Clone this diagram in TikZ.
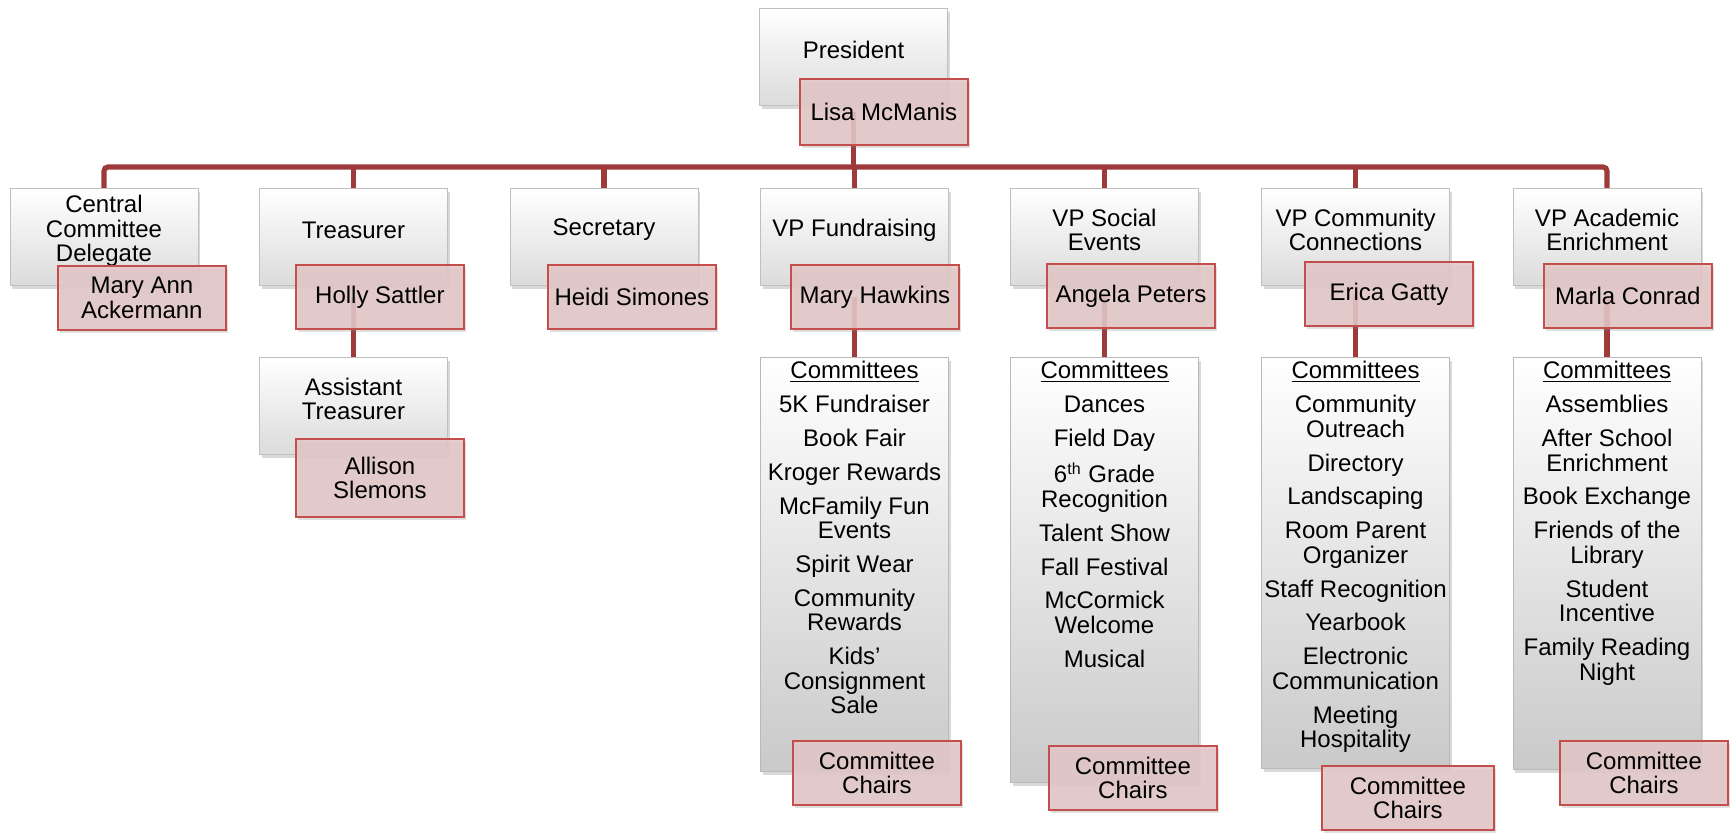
\documentclass[tikz,border=0pt]{standalone}
\usepackage{fontspec}
\setmainfont{Liberation Sans}
\usetikzlibrary{shadows}
\pgfdeclarelayer{bg}
\pgfsetlayers{bg,main}
\definecolor{connc}{RGB}{158,58,58}
\definecolor{pfill}{RGB}{228,200,200}
\definecolor{pdraw}{RGB}{196,78,76}
\newcommand\itemgap{\\[4.6pt]}
\tikzset{
  connline/.style={draw=connc, line width=2.6pt},
  txt/.style={font=\fontsize{12}{12.3}\selectfont, align=center, inner sep=0pt, text=black},
  rolebox/.style={draw=gray!50, line width=0.5pt, top color=white, bottom color=gray!28,
    minimum width=94pt, minimum height=48.5pt, inner sep=0pt, anchor=north,
    drop shadow={opacity=0.3, shadow xshift=1pt, shadow yshift=-1.5pt}},
  commbox/.style={draw=gray!55, line width=0.5pt, top color=white, bottom color=gray!42,
    minimum width=94pt, inner sep=0pt, anchor=north,
    drop shadow={opacity=0.3, shadow xshift=1pt, shadow yshift=-1.5pt}},
  personbox/.style={txt, draw=pdraw, line width=0.9pt, fill=pfill, fill opacity=0.88, text opacity=1,
    minimum width=84pt, minimum height=32pt, anchor=north west,
    drop shadow={opacity=0.25, shadow xshift=1pt, shadow yshift=-1.5pt}},
}
\begin{document}
\begin{tikzpicture}[x=0.5pt, y=-0.5pt]
\useasboundingbox (0,0) rectangle (1732,832);

% ---- role boxes
\node[rolebox] (pres) at (853.5,8) {};
\node[txt] (prest) at (853.5,50) {President};

\node[rolebox] (cent) at (104,188) {};
\node[txt] (centt) at (104,231) {Central\\Committee\\Delegate};
\node[rolebox] (treas) at (353.5,188) {};
\node[txt] (treast) at (353.5,230) {Treasurer};
\node[rolebox] (sec) at (604,188) {};
\node[txt] (sect) at (604,230) {Secretary};
\node[rolebox] (fund) at (854.5,188) {};
\node[txt] (fundt) at (854.5,230) {VP Fundraising};
\node[rolebox] (soc) at (1104.5,188) {};
\node[txt] (soct) at (1104.5,230) {VP Social\\Events};
\node[rolebox] (comy) at (1355.5,188) {};
\node[txt] (comyt) at (1355.5,230) {VP Community\\Connections};
\node[rolebox] (acad) at (1607,188) {};
\node[txt] (acadt) at (1607,230) {VP Academic\\Enrichment};

\node[rolebox] (asst) at (353.5,357) {};
\node[txt] (asstt) at (353.5,399) {Assistant\\Treasurer};

% ---- committee boxes
\node[commbox, minimum height=207pt] (fundc) at (854.5,357) {};
\node[txt, anchor=north] (fundl) at (854.5,361) {\underline{Committees}\itemgap 5K Fundraiser\itemgap Book Fair\itemgap Kroger Rewards\itemgap McFamily Fun\\Events\itemgap Spirit Wear\itemgap Community\\Rewards\itemgap Kids’\\Consignment\\Sale};
\node[commbox, minimum height=212.5pt] (socc) at (1104.5,357) {};
\node[txt, anchor=north] (socl) at (1104.5,361) {\underline{Committees}\itemgap Dances\itemgap Field Day\itemgap 6\textsuperscript{th} Grade\\Recognition\itemgap Talent Show\itemgap Fall Festival\itemgap McCormick\\Welcome\itemgap Musical};
\node[commbox, minimum height=205.5pt] (comyc) at (1355.5,357) {};
\node[txt, anchor=north] (comyl) at (1355.5,361) {\underline{Committees}\itemgap Community\\Outreach\itemgap Directory\itemgap Landscaping\itemgap Room Parent\\Organizer\itemgap Staff Recognition\itemgap Yearbook\itemgap Electronic\\Communication\itemgap Meeting\\Hospitality};
\node[commbox, minimum height=206pt] (acadc) at (1607,357) {};
\node[txt, anchor=north] (acadl) at (1607,361) {\underline{Committees}\itemgap Assemblies\itemgap After School\\Enrichment\itemgap Book Exchange\itemgap Friends of the\\Library\itemgap Student\\Incentive\itemgap Family Reading\\Night};

% ---- person boxes
\node[personbox, minimum height=33pt] (lisa) at (799,78) {Lisa McManis};
\node[personbox] (mary) at (57,265) {Mary Ann\\Ackermann};
\node[personbox] (holly) at (295,264) {Holly Sattler};
\node[personbox] (heidi) at (547,264) {Heidi Simones};
\node[personbox] (mhaw) at (790,264) {Mary Hawkins};
\node[personbox] (angela) at (1046,263) {Angela Peters};
\node[personbox] (erica) at (1304,261) {Erica Gatty};
\node[personbox] (marla) at (1543,263) {Marla Conrad};
\node[personbox, minimum height=39pt] (allison) at (295,438) {Allison\\Slemons};

\node[personbox] (fundch) at (792,740) {Committee\\Chairs};
\node[personbox] (socch) at (1048,745) {Committee\\Chairs};
\node[personbox, minimum width=86pt] (comych) at (1321,765) {Committee\\Chairs};
\node[personbox] (acadch) at (1559,740) {Committee\\Chairs};

% ---- connectors
\begin{pgfonlayer}{bg}
\coordinate (barY) at (0,167);
\draw[connline, rounded corners=2pt] (cent.north) -- (cent.north |- barY) -- (acad.north |- barY) -- (acad.north);
\foreach \n in {treas,sec,fund,soc,comy}
  \draw[connline] (\n.north |- barY) -- (\n.north);
\draw[connline] (pres.center |- lisa.center) -- (pres.center |- barY);
\draw[connline] (treas.center |- holly.center) -- (asst.north);
\draw[connline] (fund.center |- mhaw.center) -- (fundc.north);
\draw[connline] (soc.center |- angela.center) -- (socc.north);
\draw[connline] (comy.center |- erica.center) -- (comyc.north);
\draw[connline] (acad.center |- marla.center) -- (acadc.north);
\end{pgfonlayer}
\end{tikzpicture}
\end{document}
